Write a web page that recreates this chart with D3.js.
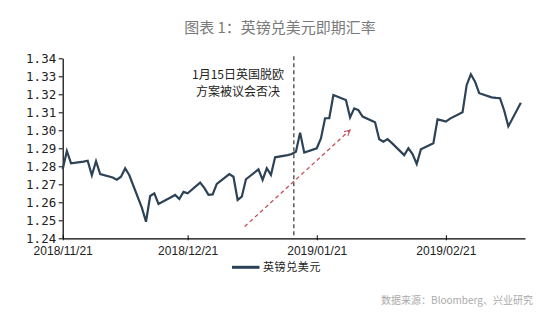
<!DOCTYPE html>
<html>
<head>
<meta charset="utf-8">
<script src="https://cdn.jsdelivr.net/npm/d3@7"></script>
<style>
  body { margin: 0; background: #fff; }
  svg { display: block; }
</style>
</head>
<body>
<svg id="chart" width="550" height="331"></svg>
<script>
// GBP/USD spot, daily closes (trading days)
const dates = [
  "2018-11-21","2018-11-22","2018-11-23","2018-11-26","2018-11-27","2018-11-28","2018-11-29","2018-11-30",
  "2018-12-03","2018-12-04","2018-12-05","2018-12-06","2018-12-07",
  "2018-12-10","2018-12-11","2018-12-12","2018-12-13","2018-12-14",
  "2018-12-17","2018-12-18","2018-12-19","2018-12-20","2018-12-21",
  "2018-12-24","2018-12-25","2018-12-26","2018-12-27","2018-12-28",
  "2018-12-31","2019-01-01","2019-01-02","2019-01-03","2019-01-04",
  "2019-01-07","2019-01-08","2019-01-09","2019-01-10","2019-01-11",
  "2019-01-14","2019-01-15","2019-01-16","2019-01-17","2019-01-18",
  "2019-01-21","2019-01-22","2019-01-23","2019-01-24","2019-01-25",
  "2019-01-28","2019-01-29","2019-01-30","2019-01-31","2019-02-01",
  "2019-02-04","2019-02-05","2019-02-06","2019-02-07","2019-02-08",
  "2019-02-11","2019-02-12","2019-02-13","2019-02-14","2019-02-15",
  "2019-02-18","2019-02-19","2019-02-20","2019-02-21","2019-02-22",
  "2019-02-25","2019-02-26","2019-02-27","2019-02-28","2019-03-01",
  "2019-03-04","2019-03-05","2019-03-06","2019-03-07","2019-03-08",
  "2019-03-11"
];
const rates = [
  1.2783, 1.2885, 1.2817, 1.2826, 1.2831, 1.2750, 1.2828, 1.2757,
  1.2738, 1.2726, 1.2742, 1.2789, 1.2750,
  1.2570, 1.2492, 1.2635, 1.2650, 1.2591,
  1.2628, 1.2641, 1.2618, 1.2658, 1.2650,
  1.2709, 1.2680, 1.2641, 1.2644, 1.2702,
  1.2757, 1.2742, 1.2613, 1.2631, 1.2728,
  1.2783, 1.2724, 1.2789, 1.2752, 1.2850,
  1.2862, 1.2868, 1.2881, 1.2987, 1.2876,
  1.2900, 1.2955, 1.3067, 1.3067, 1.3196,
  1.3168, 1.3072, 1.3122, 1.3112, 1.3076,
  1.3045, 1.2950, 1.2937, 1.2951, 1.2930,
  1.2862, 1.2900, 1.2868, 1.2813, 1.2894,
  1.2928, 1.3061, 1.3055, 1.3048, 1.3065,
  1.3100, 1.3252, 1.3311, 1.3270, 1.3206,
  1.3183, 1.3180, 1.3178, 1.3110, 1.3022,
  1.3153
];

const yTicks = [1.24, 1.25, 1.26, 1.27, 1.28, 1.29, 1.30, 1.31, 1.32, 1.33, 1.34];
const xTickDates = ["2018-11-21", "2018-12-21", "2019-01-21", "2019-02-21"];
const xDomain = ["2018-11-21", "2019-03-12"];

const titleText = "图表 1：英镑兑美元即期汇率";
const seriesName = "英镑兑美元";
const sourceText = "数据来源：Bloomberg、兴业研究";
const noteLines = ["1月15日英国脱欧", "方案被议会否决"];
const eventDate = "2019-01-15T12:00";
const arrowFrom = { date: "2019-01-03T16:00", value: 1.2465 };
const arrowTo = { date: "2019-01-29T00:00", value: 1.3002 };

const parseDay = d3.timeParse("%Y-%m-%d");
const parseTime = d3.timeParse("%Y-%m-%dT%H:%M");
const series = dates.map((d, i) => ({ date: parseDay(d), value: rates[i] }));

const svg = d3.select("#chart");
const lineColor = "#2b4257";

const x = d3.scaleTime()
  .domain(xDomain.map(parseDay))
  .range([62.7, 525]);
const y = d3.scaleLinear()
  .domain([1.24, 1.34])
  .range([238.3, 58.3]);

// title
svg.append("text")
  .attr("x", 280).attr("y", 33)
  .attr("text-anchor", "middle")
  .style("font-family", "'Noto Sans CJK SC', sans-serif")
  .style("font-size", "15px")
  .style("fill", "#7a7a7a")
  .text(titleText);

// y axis
const yAxis = svg.append("g")
  .attr("transform", `translate(${x.range()[0]},0)`)
  .call(d3.axisLeft(y).tickValues(yTicks).tickFormat(d3.format(".2f"))
    .tickSizeInner(4).tickSizeOuter(0).tickPadding(2.5));
yAxis.select(".domain").attr("stroke", "#000").attr("stroke-width", 1.2);
yAxis.selectAll(".tick line").attr("stroke", "#000");
yAxis.selectAll("text")
  .style("font-family", "'DejaVu Sans Mono', monospace")
  .style("font-size", "12.5px")
  .style("fill", "#222");

// x axis
const xAxis = svg.append("g")
  .attr("transform", `translate(0,${y.range()[0]})`)
  .call(d3.axisBottom(x).tickValues(xTickDates.map(parseDay))
    .tickFormat(d3.timeFormat("%Y/%m/%d"))
    .tickSizeInner(-3).tickSizeOuter(0));
xAxis.select(".domain").attr("stroke", "#000").attr("stroke-width", 1.2);
xAxis.selectAll(".tick line").attr("stroke", "#000").attr("y2", 2).attr("y1", -3);
xAxis.selectAll("text")
  .attr("y", 12.4).attr("dy", "0.35em")
  .style("font-family", "'Liberation Sans', Arial, sans-serif")
  .style("font-size", "12px")
  .style("fill", "#222");

// event marker
const ex = x(parseTime(eventDate));
svg.append("line")
  .attr("x1", ex).attr("x2", ex)
  .attr("y1", y(1.34) - 2).attr("y2", y(1.24))
  .attr("stroke", "#333").attr("stroke-width", 1.2)
  .attr("stroke-dasharray", "4,3");

svg.append("g")
  .selectAll("text")
  .data(noteLines)
  .join("text")
  .attr("x", 238).attr("y", (d, i) => 75 + i * 17)
  .attr("dy", "0.35em")
  .attr("text-anchor", "middle")
  .style("font-family", "'Noto Sans CJK SC', sans-serif")
  .style("font-size", "12px")
  .style("fill", "#222")
  .text(d => d);

// trend arrow
svg.append("defs").append("marker")
  .attr("id", "head")
  .attr("viewBox", "0 0 10 10")
  .attr("refX", 9).attr("refY", 5)
  .attr("markerWidth", 7).attr("markerHeight", 7)
  .attr("markerUnits", "userSpaceOnUse")
  .attr("orient", "auto")
  .append("path")
  .attr("d", "M1,1 L9,5 L1,9")
  .attr("fill", "none")
  .attr("stroke", "#c4505a")
  .attr("stroke-width", 1.5);

svg.append("line")
  .attr("x1", x(parseTime(arrowFrom.date))).attr("y1", y(arrowFrom.value))
  .attr("x2", x(parseTime(arrowTo.date))).attr("y2", y(arrowTo.value))
  .attr("stroke", "#c4505a").attr("stroke-width", 1.3)
  .attr("stroke-dasharray", "4,3")
  .attr("marker-end", "url(#head)");

// rate line
svg.append("path")
  .datum(series)
  .attr("fill", "none")
  .attr("stroke", lineColor)
  .attr("stroke-width", 2.2)
  .attr("stroke-linejoin", "miter")
  .attr("d", d3.line().x(d => x(d.date)).y(d => y(d.value)));

// legend
const legend = svg.append("g").attr("transform", "translate(232,267.3)");
legend.append("line")
  .attr("x1", 0).attr("x2", 27.5)
  .attr("stroke", lineColor).attr("stroke-width", 3);
legend.append("text")
  .attr("x", 31).attr("dy", "0.35em")
  .style("font-family", "'Noto Sans CJK SC', sans-serif")
  .style("font-size", "11px")
  .style("letter-spacing", "0.6px")
  .style("fill", "#222")
  .text(seriesName);

// source note
svg.append("text")
  .attr("x", 533).attr("y", 304)
  .attr("text-anchor", "end")
  .style("font-family", "'Noto Sans CJK SC', sans-serif")
  .style("font-size", "10px")
  .style("fill", "#aaa")
  .text(sourceText);
</script>
</body>
</html>
